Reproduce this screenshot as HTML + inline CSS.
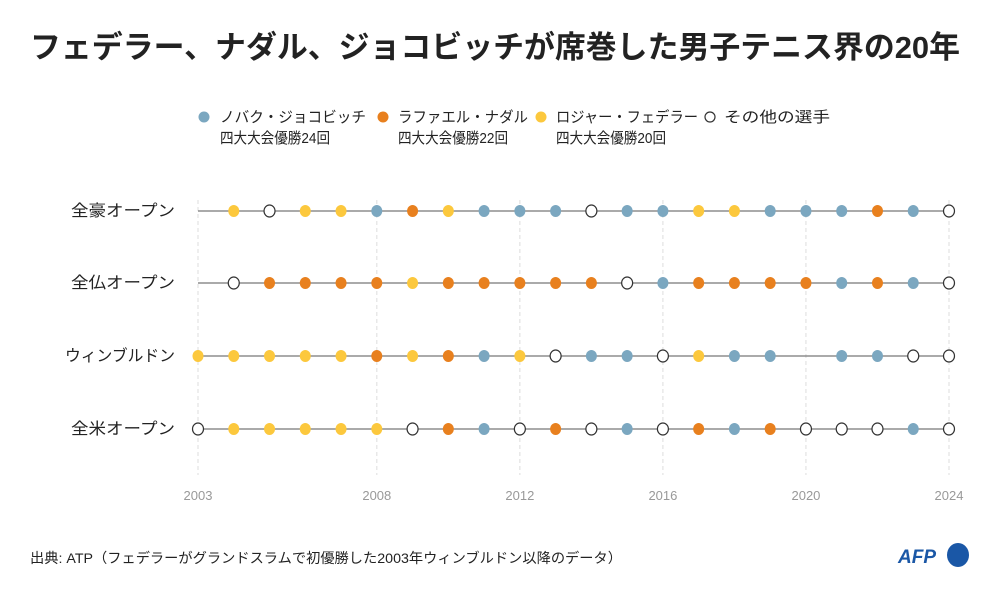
<!DOCTYPE html>
<html><head><meta charset="utf-8">
<style>
body{margin:0;background:#fff;width:1000px;height:593px;overflow:hidden;font-family:"Liberation Sans","Noto Sans CJK JP",sans-serif;}
svg text{font-family:"Liberation Sans","Noto Sans CJK JP",sans-serif;}
</style></head><body>
<svg id="s" width="1000" height="593" xmlns="http://www.w3.org/2000/svg">
<text x="30" y="58" font-size="31" font-weight="bold" fill="#222" textLength="930" lengthAdjust="spacingAndGlyphs">フェデラー、ナダル、ジョコビッチが席巻した男子テニス界の20年</text>
<circle cx="204" cy="117" r="5.5" fill="#7ba7c0"/>
<text x="220" y="122" font-size="15" fill="#222" textLength="146" lengthAdjust="spacingAndGlyphs">ノバク・ジョコビッチ</text>
<text x="220" y="143" font-size="15" fill="#222" textLength="110" lengthAdjust="spacingAndGlyphs">四大大会優勝24回</text>
<circle cx="383" cy="117" r="5.5" fill="#e8801e"/>
<text x="398" y="122" font-size="15" fill="#222" textLength="130" lengthAdjust="spacingAndGlyphs">ラファエル・ナダル</text>
<text x="398" y="143" font-size="15" fill="#222" textLength="110" lengthAdjust="spacingAndGlyphs">四大大会優勝22回</text>
<circle cx="541" cy="117" r="5.5" fill="#fcc83d"/>
<text x="556" y="122" font-size="15" fill="#222" textLength="142" lengthAdjust="spacingAndGlyphs">ロジャー・フェデラー</text>
<text x="556" y="143" font-size="15" fill="#222" textLength="110" lengthAdjust="spacingAndGlyphs">四大大会優勝20回</text>
<circle cx="710" cy="117" r="5" fill="#fff" stroke="#333" stroke-width="1.2"/>
<text x="724" y="122" font-size="15" fill="#222" textLength="106" lengthAdjust="spacingAndGlyphs">その他の選手</text>
<g id="g"></g>
<text x="30" y="563" font-size="14" fill="#222" textLength="592" lengthAdjust="spacingAndGlyphs">出典: ATP（フェデラーがグランドスラムで初優勝した2003年ウィンブルドン以降のデータ）</text>
<text x="898" y="563" font-size="19" font-weight="bold" font-style="italic" fill="#1a57a6">AFP</text>
<ellipse cx="958" cy="555" rx="11" ry="12" fill="#1a57a6"/>
</svg>
<script>
var X=function(y){return 198+(y-2003)*35.762;};
var C={B:"#7ba7c0",R:"#e8801e",Y:"#fcc83d",O:"#fff"};
var rows=[
["全豪オープン",211,"-YOYYBRYBBBOBBYYBBBRBO",104],
["全仏オープン",283,"-ORRRRYRRRRROBRRRRBRBO",104],
["ウィンブルドン",356,"YYYYYRYRBYOBBOYBB-BBOO",110],
["全米オープン",429,"OYYYYYORBOROBORBROOOBO",104]];
var h="";
[2003,2008,2012,2016,2020,2024].forEach(function(y){
h+='<line x1="'+X(y)+'" y1="200" x2="'+X(y)+'" y2="475" stroke="#ddd" stroke-dasharray="4,3"/>';
h+='<text x="'+X(y)+'" y="500" font-size="13" fill="#999" text-anchor="middle">'+y+'</text>';});
rows.forEach(function(r){
h+='<text x="175" y="'+(r[1]+5)+'" font-size="16" fill="#222" text-anchor="end" textLength="'+r[3]+'" lengthAdjust="spacingAndGlyphs">'+r[0]+'</text>';
h+='<line x1="198" y1="'+r[1]+'" x2="949" y2="'+r[1]+'" stroke="#777" stroke-width="1.3"/>';
for(var i=0;i<22;i++){var c=r[2][i];if(c=="-")continue;
h+='<ellipse cx="'+X(2003+i)+'" cy="'+r[1]+'" rx="5.5" ry="6" fill="'+C[c]+'"'+(c=="O"?' stroke="#333" stroke-width="1.2"':'')+'/>';}
});
document.getElementById("g").innerHTML=h;
</script>
</body></html>
